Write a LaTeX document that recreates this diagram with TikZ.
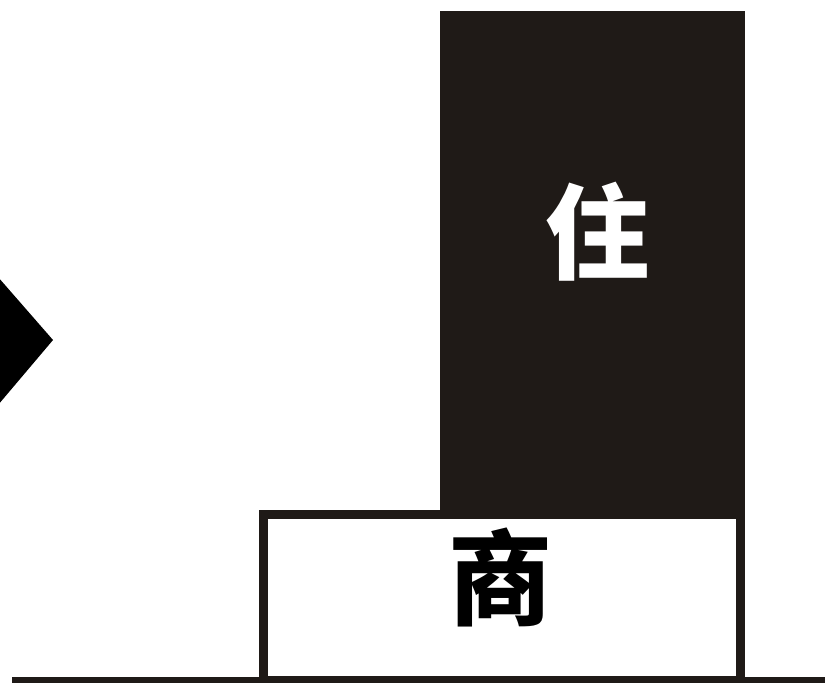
\documentclass[tikz,border=0pt]{standalone}
\usepackage{fontspec}
\newfontfamily\cjk{Noto Sans CJK SC}
\definecolor{ink}{RGB}{31,26,23}
\begin{document}
\begin{tikzpicture}[x=1pt,y=-1pt,
  lbl/.style={font=\cjk\bfseries\fontsize{104}{104}\selectfont, inner sep=0pt}]
\useasboundingbox (0,0) rectangle (825,683);
% arrow head at left
\fill[black] (-2,277) -- (53,340) -- (-2,405) -- cycle;
% tall black block
\fill[ink] (440,11) rectangle (745,514);
\node[lbl, text=white] (zhu) at (597,232) {住};
% white base block
\draw[ink, line width=9pt, fill=white] (263.5,514.5) rectangle (740.5,680);
\node[lbl, text=black] (shang) at (500,577) {商};
% ground line
\draw[ink, line width=6pt] (12,680) coordinate (g1) -- (825,680) coordinate (g2);
\end{tikzpicture}
\end{document}
